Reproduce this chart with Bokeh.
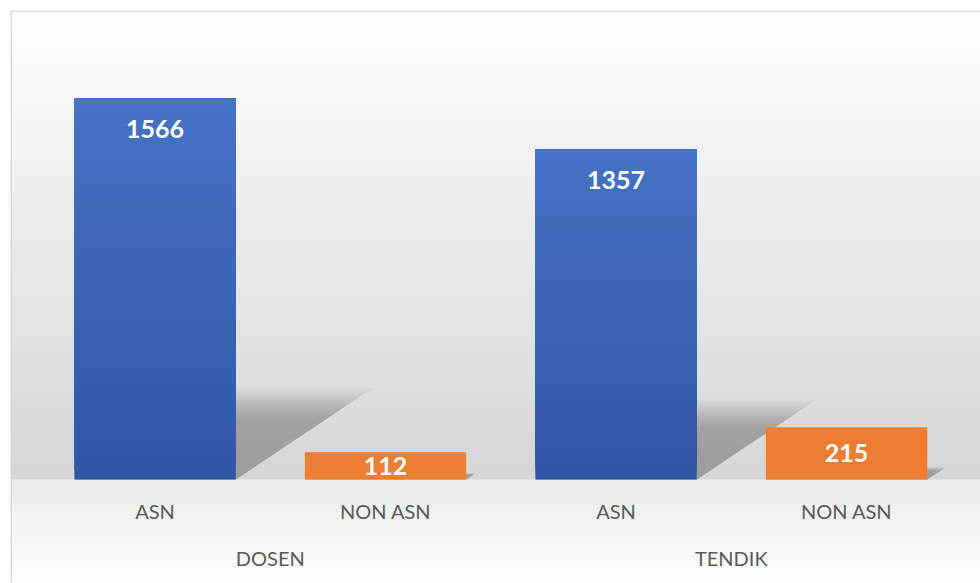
import numpy as np
from bokeh.plotting import figure
from bokeh.models import Range1d, Span, ColumnDataSource
from bokeh.core.properties import value
from bokeh.embed import file_html
from bokeh.resources import INLINE

# ---- data ----
groups = ["DOSEN", "TENDIK"]
categories = ["ASN", "NON ASN", "ASN", "NON ASN"]
bar_group = ["DOSEN", "DOSEN", "TENDIK", "TENDIK"]
values = [1566, 112, 1357, 215]
bar_colors = ["blue", "orange", "blue", "orange"]

# ---- layout ----
W, H = 980, 583
LB, TB = 10, 10
FW, FH = W - LB, H - TB
X0, X1 = -0.127, 4.081
Y0, Y1 = -427.5, 1927.6
PX = (Y1 - Y0) / FH          # data units per screen px (y)
PXX = (X1 - X0) / FW         # data units per screen px (x)
BW = 0.70

p = figure(width=W, height=H, output_backend="svg", toolbar_location=None,
           x_range=Range1d(X0, X1), y_range=Range1d(Y0, Y1),
           min_border_left=LB, min_border_top=TB, min_border_right=0, min_border_bottom=0)
p.axis.visible = False
p.grid.visible = False
p.outline_line_color = None
p.background_fill_color = "white"
p.border_fill_color = "white"

# ---- background gradient ----
rows = np.arange(FH)
sy = rows + 10.0
base_px = 479.0
g = np.where(sy < base_px,
             255 - (255 - 214) * (sy - 10) / (base_px - 10),
             236 + (254 - 236) * (sy - base_px) / (583 - base_px))
g = np.clip(g, 0, 255).astype(np.uint8)[::-1]
img = np.zeros((FH, 2), dtype=np.uint32)
view = img.view(dtype=np.uint8).reshape((FH, 2, 4))
view[:, :, 0] = g[:, None]
view[:, :, 1] = g[:, None]
view[:, :, 2] = g[:, None]
view[:, :, 3] = 255
p.image_rgba(image=[img], x=X0, y=Y0, dw=X1 - X0, dh=Y1 - Y0)

# ---- shadows (perspective, blurred by layering) ----
xs_all, ys_all = [], []
for i, v in enumerate(values):
    c = i + 0.5
    xl, xr = c - BW / 2, c + BW / 2
    for s in np.linspace(0.74, 1.12, 16):
        h = 0.215 * v * s
        w = 0.00034 * v * s
        xs_all.append([xl, xr, xr + w, xl + w])
        ys_all.append([0, 0, h, h])
p.patches(xs_all, ys_all, fill_color="#555555", fill_alpha=0.028, line_color=None)

# ---- bars (vertical gradient for blue) ----
top_c = np.array([0x45, 0x73, 0xc6])
bot_c = np.array([0x30, 0x56, 0xa6])
NSEG = 40
q = dict(left=[], right=[], bottom=[], top=[], color=[])
for i, v in enumerate(values):
    c = i + 0.5
    if bar_colors[i] == "blue":
        for k in range(NSEG):
            b = v * k / NSEG
            f = (k + 0.5) / NSEG
            col = bot_c + (top_c - bot_c) * f
            q["left"].append(c - BW / 2); q["right"].append(c + BW / 2)
            q["bottom"].append(b); q["top"].append(v)
            q["color"].append("#%02x%02x%02x" % tuple(int(round(x)) for x in col))
    else:
        q["left"].append(c - BW / 2); q["right"].append(c + BW / 2)
        q["bottom"].append(0); q["top"].append(v)
        q["color"].append("#ed7d31")
p.quad(source=ColumnDataSource(q), left="left", right="right", bottom="bottom",
       top="top", fill_color="color", line_color=None)

# ---- data labels ----
lab_x = [i + 0.5 for i in range(len(values))]
lab_y = [v - min(31 * PX, v / 2) for v in values]
p.text(x=lab_x, y=lab_y, text=[str(v) for v in values], text_color="white",
       text_font=value("Lato"), text_font_style="bold", text_font_size="25px",
       text_align="center", text_baseline="middle")

# ---- category labels ----
p.text(x=lab_x, y=[-32 * PX] * len(categories), text=categories, text_color="#595959",
       text_font=value("Lato"), text_font_size="20px",
       text_align="center", text_baseline="middle")
gx = [np.mean([i + 0.5 for i, gg in enumerate(bar_group) if gg == g_]) for g_ in groups]
p.text(x=gx, y=[-79 * PX] * len(groups), text=groups, text_color="#595959",
       text_font=value("Lato"), text_font_size="20px",
       text_align="center", text_baseline="middle")

# ---- chart border (left / top visible) ----
p.add_layout(Span(location=X0 + 0.6 * PXX, dimension="height", line_color="#d4d4d4", line_width=1.5))
p.add_layout(Span(location=Y1 - 0.6 * PX, dimension="width", line_color="#d4d4d4", line_width=1.5))

open("out.html", "w").write(file_html(p, INLINE))
